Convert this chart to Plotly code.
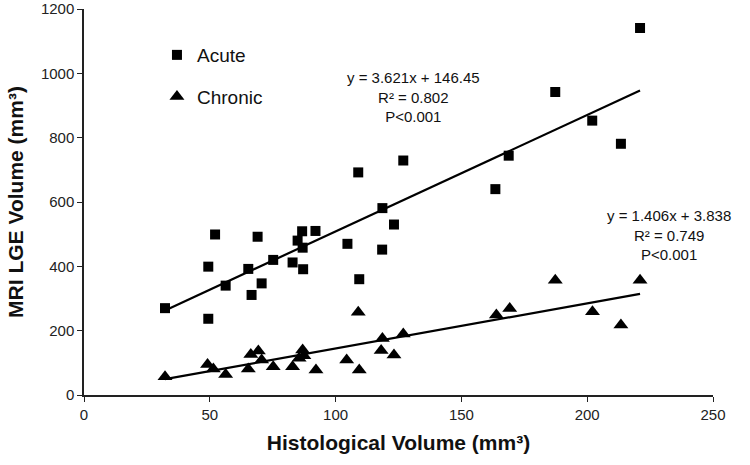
import plotly.graph_objects as go

# Acute data (histological volume, MRI LGE volume)
acute_x = [32.2, 49.4, 49.4, 52.1, 56.3, 65.3, 66.6, 69.0, 70.6, 75.2, 82.9, 84.9, 86.9, 86.7, 87.1,
           92.0, 104.7, 109.4, 109.0, 118.5, 118.6, 123.2, 126.9, 163.5, 168.8, 187.3, 202.0, 213.4, 221.0]
acute_y = [270, 399, 237, 499, 340, 392, 311, 492, 347, 420, 412, 480, 458, 509, 391,
           510, 470, 360, 692, 452, 581, 530, 729, 640, 744, 942, 853, 781, 1141]

# Chronic data
chronic_x = [32.2, 49.1, 51.4, 56.3, 65.3, 66.3, 69.3, 70.6, 75.2, 82.9, 85.5, 86.9, 87.4, 92.2,
             104.4, 109.4, 109.0, 118.6, 118.1, 123.2, 126.9, 163.9, 169.2, 187.3, 202.1, 213.4, 221.0]
chronic_y = [57, 95, 81, 64, 81, 126, 137, 109, 88, 88, 114, 140, 122, 78,
             109, 78, 257, 176, 138, 124, 190, 249, 269, 357, 259, 218, 357]

# Trend line coefficients (as printed in the chart)
acute_slope, acute_intercept = 3.621, 146.45
chronic_slope, chronic_intercept = 1.406, 3.838
trend_x = [min(acute_x), max(acute_x)]

x_ticks = [0, 50, 100, 150, 200, 250]
y_ticks = [0, 200, 400, 600, 800, 1000, 1200]

FONT = "Liberation Sans, Arial, Helvetica, sans-serif"

fig = go.Figure()
fig.add_trace(go.Scatter(
    x=acute_x, y=acute_y, mode="markers", name="Acute",
    marker=dict(symbol="square", size=10, color="black"),
    legendgroup="a"))
fig.add_trace(go.Scatter(
    x=chronic_x, y=chronic_y, mode="markers", name="Chronic",
    marker=dict(symbol="triangle-up", size=13, color="black"),
    legendgroup="c"))
fig.add_trace(go.Scatter(
    x=trend_x, y=[acute_slope * v + acute_intercept for v in trend_x],
    mode="lines", line=dict(color="black", width=2.2), showlegend=False, hoverinfo="skip"))
fig.add_trace(go.Scatter(
    x=trend_x, y=[chronic_slope * v + chronic_intercept for v in trend_x],
    mode="lines", line=dict(color="black", width=2.2), showlegend=False, hoverinfo="skip"))

fig.add_annotation(x=130.8, y=927, xref="x", yref="y", showarrow=False,
                   text="y = 3.621x + 146.45<br>R² = 0.802<br>P<0.001",
                   align="center", font=dict(family=FONT, size=15, color="#111"))
fig.add_annotation(x=232.5, y=498, xref="x", yref="y", showarrow=False,
                   text="y = 1.406x + 3.838<br>R² = 0.749<br>P<0.001",
                   align="center", font=dict(family=FONT, size=15, color="#111"))

fig.update_layout(
    width=750, height=465,
    margin=dict(l=84, r=37, t=9, b=70),
    paper_bgcolor="white", plot_bgcolor="white",
    font=dict(family=FONT, color="#222"),
    showlegend=True,
    legend=dict(x=0.116, y=0.93, xanchor="left", yanchor="top",
                font=dict(family=FONT, size=19, color="#111"),
                bgcolor="rgba(0,0,0,0)", traceorder="grouped", tracegroupgap=14,
                itemwidth=30),
    xaxis=dict(range=[0, 250], tickvals=x_ticks, showgrid=False, zeroline=False,
               showline=True, linecolor="#222", linewidth=1.5, automargin=False,
               ticks="outside", ticklen=5, tickcolor="#222",
               tickfont=dict(family=FONT, size=15, color="#222"),
               title=dict(text="<b>Histological Volume (mm³)</b>", standoff=14,
                          font=dict(family=FONT, size=21, color="#111"))),
    yaxis=dict(range=[0, 1200], tickvals=y_ticks, showgrid=False, zeroline=False,
               showline=True, linecolor="#222", linewidth=1.5, automargin=False,
               ticks="outside", ticklen=5, tickcolor="#222",
               tickfont=dict(family=FONT, size=15, color="#222"),
               title=dict(text="<b>MRI LGE Volume (mm³)</b>", standoff=12,
                          font=dict(family=FONT, size=21, color="#111"))),
)

# remove the default 8px page margin so the figure fills the window exactly
fig.write_html("out.html", config={"displayModeBar": False},
               post_script="document.body.style.margin='0';")
